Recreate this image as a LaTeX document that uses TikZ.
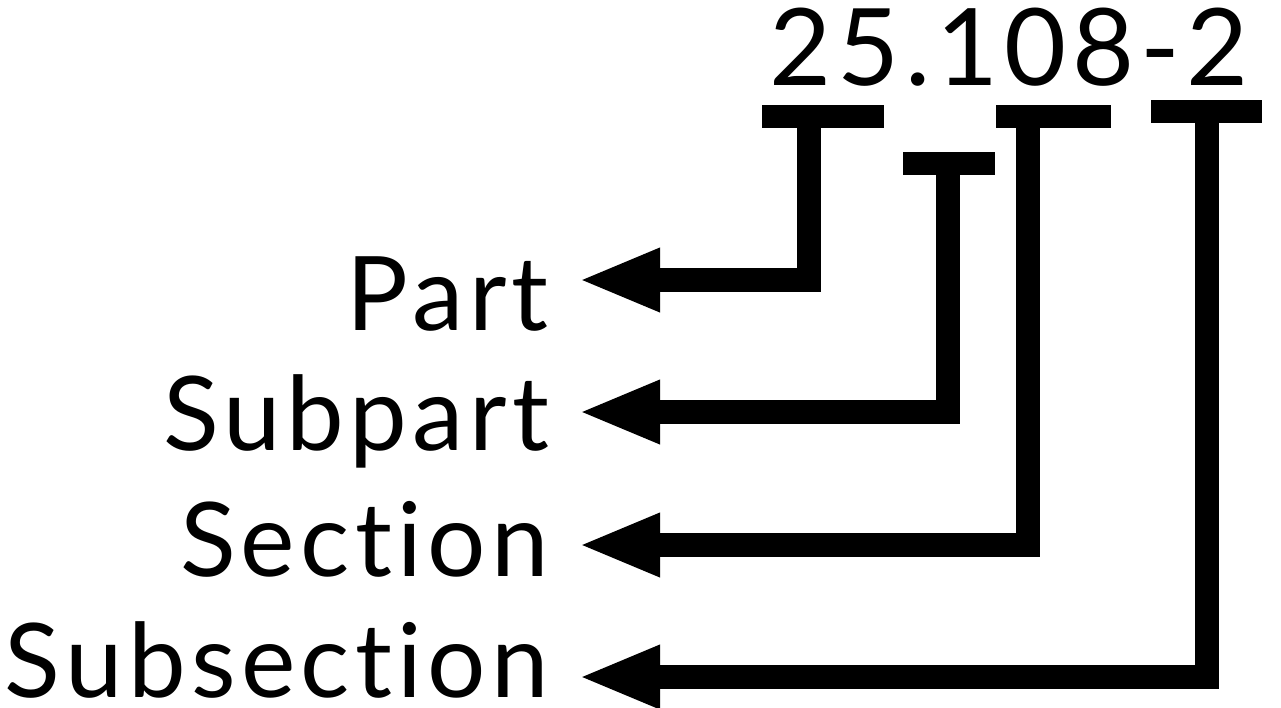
\documentclass[tikz,border=0pt]{standalone}
\usepackage{fontspec}
\setmainfont{Lato}[Ligatures={NoCommon}]
\newfontfamily\labelfont{Lato}[Ligatures={NoCommon},LetterSpace=5.2]
\newfontfamily\numfont{Lato}[LetterSpace=5.5]
\usetikzlibrary{arrows.meta}
\begin{document}
\begin{tikzpicture}[x=1pt,y=-1pt,
  lbl/.style={anchor=base east, inner sep=0pt, text depth=0pt, font=\labelfont\fontsize{103}{110}\selectfont},
  num/.style={anchor=base, inner sep=0pt, font=\numfont\fontsize{107}{110}\selectfont},
  bracketbar/.style={line width=23pt},
  lead/.style={line width=24pt, line join=miter, -{Triangle[length=82pt,width=58pt]}}]
\useasboundingbox (0,0) rectangle (1281,707);

% citation number
\node[num] (cite) at (1009,85) {25.108-2};

% labels
\node[lbl] (part)  at (549,330) {Part};
\node[lbl] (subpart) at (549,450) {Subpart};
\node[lbl] (section) at (549,576) {Section};
\node[lbl] (subsection) at (549,697) {Subsection};

% bracket bars under the number
\coordinate (b1l) at (762,116); \coordinate (b1r) at (884,116); \coordinate (s1) at (809,116);
\coordinate (b2l) at (903,163); \coordinate (b2r) at (995,163); \coordinate (s2) at (948,163);
\coordinate (b3l) at (996,116); \coordinate (b3r) at (1111,116); \coordinate (s3) at (1028,116);
\coordinate (b4l) at (1151,111); \coordinate (b4r) at (1262,111); \coordinate (s4) at (1207,111);

% arrow tips beside the labels
\coordinate (t1) at (578,280);
\coordinate (t2) at (578,412);
\coordinate (t3) at (578,545);
\coordinate (t4) at (578,677);

\draw[bracketbar] (b1l) -- (b1r);
\draw[bracketbar] (b2l) -- (b2r);
\draw[bracketbar] (b3l) -- (b3r);
\draw[bracketbar] (b4l) -- (b4r);

\draw[lead] (s1) |- (t1);
\draw[lead] (s2) |- (t2);
\draw[lead] (s3) |- (t3);
\draw[lead] (s4) |- (t4);
\end{tikzpicture}
\end{document}
